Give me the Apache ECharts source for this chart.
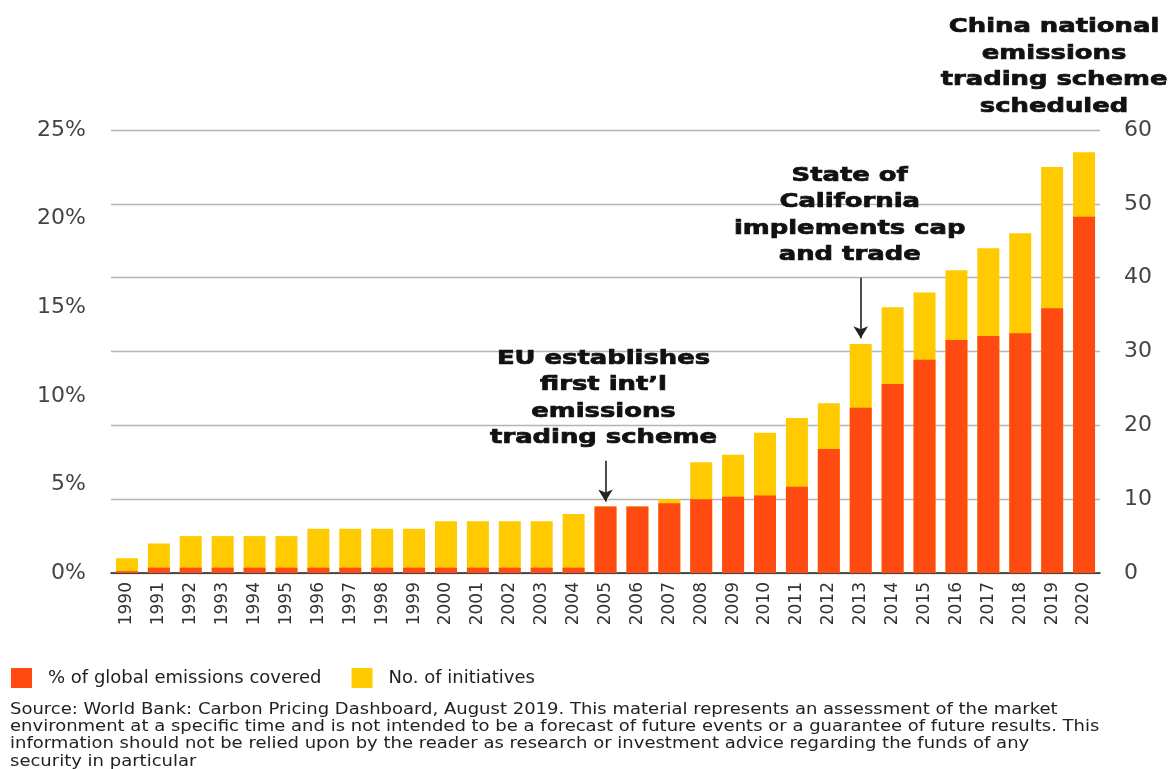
<!DOCTYPE html>
<html>
<head>
<meta charset="utf-8">
<title>Carbon pricing initiatives</title>
<script src="https://cdn.jsdelivr.net/npm/echarts@6/dist/echarts.min.js"></script>
<style>
  html, body { margin: 0; padding: 0; background: #ffffff; }
  #chart { width: 1174px; height: 769px; }
</style>
</head>
<body>
<div id="chart"></div>
<script>
// Years on the category axis
const years = ['1990', '1991', '1992', '1993', '1994', '1995', '1996', '1997', '1998', '1999',
  '2000', '2001', '2002', '2003', '2004', '2005', '2006', '2007', '2008', '2009',
  '2010', '2011', '2012', '2013', '2014', '2015', '2016', '2017', '2018', '2019', '2020'];

// Share of global emissions covered by carbon pricing (%), left axis
const emissionsPct = [0.1, 0.3, 0.3, 0.3, 0.3, 0.3, 0.3, 0.3, 0.3, 0.3,
  0.3, 0.3, 0.3, 0.3, 0.3, 3.75, 3.75, 3.93, 4.16, 4.31,
  4.38, 4.87, 7.0, 9.33, 10.67, 12.04, 13.15, 13.37, 13.53, 14.94, 20.11];

// Number of carbon pricing initiatives, right axis
const initiatives = [2, 4, 5, 5, 5, 5, 6, 6, 6, 6,
  7, 7, 7, 7, 8, 9, 9, 10, 15, 16,
  19, 21, 23, 31, 36, 38, 41, 44, 46, 55, 57];

// Axis ranges
const pctAxis = { min: 0, max: 25, interval: 5 };
const countAxis = { min: 0, max: 60, interval: 10 };

// Milestones: year, arrow start and end (in number-of-initiatives units), caption
const milestoneYears = ['2005', '2013', '2020'];
const milestoneArrowFrom = [15.2, 40.0, 61.1];
const milestoneArrowTo = [9.7, 31.8, 57.7];
const milestoneText = [
  'EU establishes\nfirst int\u2019l\nemissions\ntrading scheme',
  'State of\nCalifornia\nimplements cap\nand trade',
  'China national\nemissions\ntrading scheme\nscheduled'
];

const legendNames = ['% of global emissions covered', 'No. of initiatives'];

const sourceLines = [
  'Source: World Bank: Carbon Pricing Dashboard, August 2019. This material represents an assessment of the market',
  'environment at a specific time and is not intended to be a forecast of future events or a guarantee of future results. This',
  'information should not be relied upon by the reader as research or investment advice regarding the funds of any',
  'security in particular'
];

const RED = '#FF4A12';
const YELLOW = '#FFCB00';
const FONT = 'DejaVu Sans';

const chart = echarts.init(document.getElementById('chart'), null, { renderer: 'canvas' });

const option = {
  animation: false,
  backgroundColor: '#ffffff',
  textStyle: { fontFamily: FONT },
  grid: { left: 111, right: 74, top: 130, bottom: 196, containLabel: false },
  legend: {
    data: legendNames,
    left: 6,
    top: 663,
    icon: 'rect',
    itemWidth: 21,
    itemHeight: 20,
    itemGap: 30,
    selectedMode: false,
    textStyle: { fontFamily: FONT, fontSize: 18, color: '#222', padding: [0, 0, 0, 11] }
  },
  xAxis: {
    type: 'category',
    data: years,
    axisTick: { show: false },
    axisLine: { lineStyle: { color: '#222', width: 1.5 } },
    axisLabel: { rotate: 90, fontSize: 17, color: '#333', margin: 9, fontFamily: FONT, interval: 0 }
  },
  yAxis: [
    {
      type: 'value',
      min: pctAxis.min, max: pctAxis.max, interval: pctAxis.interval,
      position: 'left',
      axisLine: { show: false },
      axisTick: { show: false },
      splitLine: { show: false },
      axisLabel: { formatter: '{value}%', fontSize: 22, color: '#444', margin: 25, fontFamily: FONT }
    },
    {
      type: 'value',
      min: countAxis.min, max: countAxis.max, interval: countAxis.interval,
      position: 'right',
      axisLine: { show: false },
      axisTick: { show: false },
      splitLine: { show: true, lineStyle: { color: '#b4b4b4', width: 1.3 } },
      axisLabel: { fontSize: 22, color: '#444', margin: 24, fontFamily: FONT }
    }
  ],
  series: [
    {
      name: legendNames[1],
      type: 'bar',
      yAxisIndex: 1,
      data: initiatives,
      barWidth: 22,
      barGap: '-100%',
      clip: false,
      z: 2,
      itemStyle: { color: YELLOW },
      markLine: {
        silent: true,
        animation: false,
        symbol: ['none', 'arrow'],
        symbolSize: [11, 12],
        label: { show: false },
        lineStyle: { color: '#222', width: 1.6, type: 'solid' },
        emphasis: { disabled: true },
        data: milestoneYears.map((y, i) => [
          { coord: [y, milestoneArrowFrom[i]] },
          { coord: [y, milestoneArrowTo[i]] }
        ])
      }
    },
    {
      name: legendNames[0],
      type: 'bar',
      yAxisIndex: 0,
      data: emissionsPct,
      barWidth: 22,
      barGap: '-100%',
      z: 3,
      itemStyle: { color: RED }
    }
  ]
};

chart.setOption(option);

// Captions above the milestone arrows, placed from the axes' own scales
const captionShift = [-2, -11, -30];
const captionLift = [9, 9, 2];
const captionGraphics = milestoneYears.map((y, i) => {
  const p = chart.convertToPixel({ xAxisIndex: 0, yAxisIndex: 1 }, [y, milestoneArrowFrom[i]]);
  return {
    type: 'text',
    x: p[0] + captionShift[i],
    y: p[1] - captionLift[i],
    scaleX: 1.36,
    silent: true,
    style: {
      text: milestoneText[i],
      font: 'bold 19px "DejaVu Sans"',
      fill: '#111',
      stroke: '#111',
      lineWidth: 0.7,
      textAlign: 'center',
      textVerticalAlign: 'bottom',
      lineHeight: 26.5
    }
  };
});

// Source note beneath the legend
const sourceGraphics = sourceLines.map((line, i) => ({
  type: 'text',
  x: 10,
  y: 710 + i * 17.3,
  scaleX: 1.2,
  silent: true,
  style: {
    text: line,
    font: '15px "DejaVu Sans"',
    fill: '#222',
    textAlign: 'left',
    textVerticalAlign: 'middle'
  }
}));

chart.setOption({ graphic: captionGraphics.concat(sourceGraphics) });
</script>
</body>
</html>
